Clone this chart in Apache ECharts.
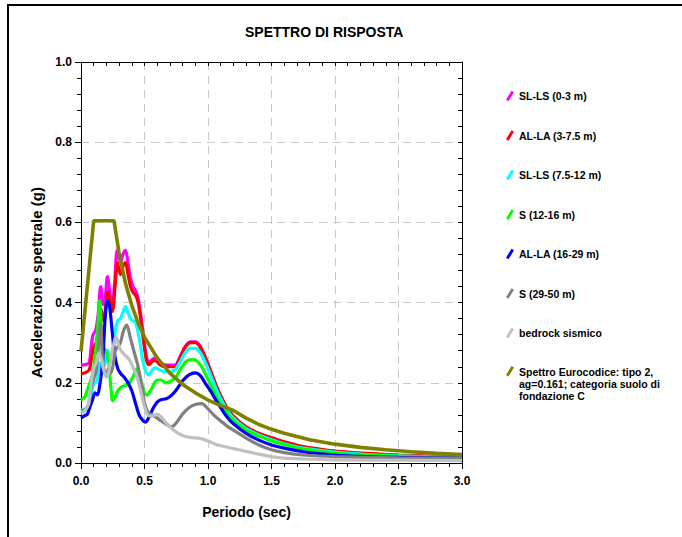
<!DOCTYPE html>
<html>
<head>
<meta charset="utf-8">
<script src="https://cdn.jsdelivr.net/npm/echarts@6/dist/echarts.min.js"></script>
<style>
html, body { margin: 0; padding: 0; background: #fff; }
#main { width: 682px; height: 537px; }
</style>
</head>
<body>
<div id="main"></div>
<script>
// periodo (s), accelerazione (g)
const slls03 = [[0,0.244],[0.04,0.246],[0.065,0.25],[0.08,0.29],[0.095,0.32],[0.115,0.33],[0.135,0.37],[0.155,0.44],[0.175,0.395],[0.19,0.41],[0.208,0.465],[0.225,0.43],[0.245,0.39],[0.265,0.45],[0.285,0.53],[0.31,0.5],[0.33,0.52],[0.35,0.53],[0.37,0.5],[0.39,0.46],[0.41,0.44],[0.43,0.43],[0.45,0.41],[0.47,0.37],[0.49,0.32],[0.515,0.265],[0.535,0.25],[0.56,0.258],[0.585,0.262],[0.62,0.25],[0.66,0.245],[0.7,0.244],[0.74,0.244],[0.78,0.265],[0.82,0.29],[0.86,0.302],[0.9,0.302],[0.94,0.29],[0.98,0.262],[1.02,0.23],[1.06,0.195],[1.1,0.165],[1.15,0.135],[1.2,0.115],[1.3,0.088],[1.4,0.073],[1.5,0.062],[1.6,0.052],[1.75,0.04],[2.0,0.029],[2.25,0.023],[2.5,0.019],[2.75,0.016],[3.0,0.014]];
const alla375 = [[0,0.222],[0.04,0.226],[0.065,0.232],[0.08,0.255],[0.1,0.29],[0.12,0.3],[0.14,0.34],[0.158,0.385],[0.175,0.355],[0.19,0.375],[0.212,0.427],[0.23,0.4],[0.248,0.378],[0.268,0.44],[0.287,0.5],[0.31,0.47],[0.33,0.49],[0.35,0.5],[0.37,0.47],[0.39,0.44],[0.41,0.425],[0.43,0.418],[0.45,0.4],[0.47,0.36],[0.49,0.31],[0.515,0.258],[0.535,0.245],[0.56,0.253],[0.585,0.256],[0.62,0.245],[0.66,0.24],[0.7,0.24],[0.74,0.24],[0.78,0.262],[0.82,0.288],[0.86,0.3],[0.9,0.3],[0.94,0.288],[0.98,0.262],[1.02,0.23],[1.06,0.197],[1.1,0.168],[1.15,0.138],[1.2,0.117],[1.3,0.09],[1.4,0.074],[1.5,0.063],[1.6,0.053],[1.75,0.041],[2.0,0.03],[2.25,0.024],[2.5,0.02],[2.75,0.017],[3.0,0.015]];
const slls7512 = [[0,0.132],[0.04,0.136],[0.065,0.145],[0.085,0.18],[0.105,0.2],[0.125,0.205],[0.15,0.25],[0.17,0.235],[0.19,0.25],[0.21,0.28],[0.23,0.27],[0.25,0.27],[0.27,0.33],[0.29,0.355],[0.31,0.36],[0.33,0.375],[0.35,0.39],[0.37,0.375],[0.39,0.36],[0.41,0.355],[0.43,0.35],[0.45,0.325],[0.47,0.29],[0.49,0.25],[0.515,0.225],[0.535,0.22],[0.56,0.232],[0.585,0.237],[0.62,0.232],[0.66,0.228],[0.7,0.228],[0.74,0.232],[0.78,0.252],[0.82,0.275],[0.86,0.286],[0.9,0.286],[0.94,0.275],[0.98,0.25],[1.02,0.22],[1.06,0.188],[1.1,0.16],[1.15,0.132],[1.2,0.112],[1.3,0.086],[1.4,0.07],[1.5,0.058],[1.6,0.048],[1.75,0.037],[2.0,0.027],[2.25,0.021],[2.5,0.018],[2.75,0.015],[3.0,0.014]];
const s1216 = [[0,0.157],[0.03,0.165],[0.05,0.182],[0.07,0.2],[0.09,0.22],[0.11,0.26],[0.13,0.33],[0.148,0.405],[0.16,0.33],[0.175,0.29],[0.195,0.28],[0.215,0.26],[0.235,0.19],[0.25,0.155],[0.27,0.165],[0.29,0.18],[0.32,0.19],[0.35,0.193],[0.38,0.2],[0.41,0.215],[0.44,0.235],[0.46,0.22],[0.48,0.195],[0.5,0.175],[0.52,0.17],[0.55,0.182],[0.58,0.2],[0.6,0.207],[0.63,0.207],[0.67,0.2],[0.71,0.205],[0.75,0.215],[0.79,0.238],[0.83,0.254],[0.87,0.258],[0.91,0.255],[0.95,0.24],[0.99,0.215],[1.03,0.19],[1.07,0.163],[1.1,0.148],[1.15,0.125],[1.2,0.106],[1.3,0.082],[1.4,0.067],[1.5,0.055],[1.6,0.046],[1.75,0.035],[2.0,0.025],[2.25,0.02],[2.5,0.017],[2.75,0.015],[3.0,0.013]];
const alla1629 = [[0,0.112],[0.03,0.118],[0.05,0.122],[0.07,0.14],[0.09,0.157],[0.11,0.175],[0.13,0.17],[0.15,0.2],[0.17,0.25],[0.19,0.36],[0.207,0.405],[0.225,0.39],[0.245,0.33],[0.265,0.27],[0.29,0.235],[0.315,0.222],[0.34,0.214],[0.37,0.2],[0.4,0.18],[0.43,0.148],[0.46,0.118],[0.49,0.105],[0.51,0.102],[0.54,0.118],[0.57,0.138],[0.6,0.152],[0.63,0.158],[0.67,0.16],[0.71,0.168],[0.75,0.182],[0.8,0.205],[0.85,0.22],[0.9,0.225],[0.94,0.218],[0.98,0.198],[1.02,0.18],[1.06,0.158],[1.1,0.138],[1.15,0.115],[1.2,0.098],[1.3,0.074],[1.4,0.057],[1.5,0.045],[1.6,0.037],[1.75,0.028],[2.0,0.02],[2.25,0.016],[2.5,0.014],[2.75,0.013],[3.0,0.012]];
const s2950 = [[0,0.13],[0.03,0.133],[0.06,0.145],[0.08,0.19],[0.1,0.21],[0.12,0.23],[0.14,0.3],[0.155,0.35],[0.17,0.25],[0.185,0.23],[0.2,0.215],[0.215,0.235],[0.235,0.225],[0.25,0.24],[0.27,0.28],[0.29,0.29],[0.31,0.3],[0.335,0.33],[0.36,0.344],[0.39,0.31],[0.42,0.275],[0.45,0.24],[0.48,0.19],[0.5,0.15],[0.53,0.125],[0.56,0.12],[0.6,0.112],[0.64,0.103],[0.68,0.095],[0.71,0.09],[0.75,0.1],[0.8,0.122],[0.85,0.138],[0.9,0.146],[0.95,0.148],[1.0,0.135],[1.05,0.118],[1.1,0.105],[1.15,0.092],[1.2,0.082],[1.3,0.062],[1.4,0.045],[1.5,0.033],[1.6,0.026],[1.75,0.02],[2.0,0.016],[2.5,0.013],[3.0,0.012]];
const bedrock = [[0,0.124],[0.03,0.13],[0.06,0.148],[0.08,0.2],[0.1,0.235],[0.12,0.25],[0.14,0.275],[0.16,0.26],[0.18,0.23],[0.2,0.215],[0.22,0.23],[0.24,0.27],[0.26,0.3],[0.275,0.315],[0.3,0.29],[0.32,0.278],[0.35,0.268],[0.38,0.258],[0.41,0.238],[0.44,0.215],[0.47,0.18],[0.5,0.14],[0.53,0.118],[0.56,0.117],[0.6,0.122],[0.63,0.115],[0.67,0.1],[0.72,0.085],[0.77,0.073],[0.82,0.066],[0.88,0.063],[0.93,0.062],[1.0,0.055],[1.05,0.048],[1.1,0.043],[1.2,0.036],[1.3,0.029],[1.4,0.022],[1.5,0.016],[1.6,0.012],[1.75,0.01],[2.0,0.008],[2.5,0.007],[3.0,0.006]];
const eurocodice = [[0,0.278],[0.1,0.604],[0.26,0.604],[0.3,0.523],[0.35,0.448],[0.4,0.393],[0.45,0.349],[0.5,0.314],[0.6,0.262],[0.7,0.224],[0.8,0.196],[0.9,0.175],[1.0,0.157],[1.1,0.143],[1.2,0.131],[1.3,0.112],[1.4,0.096],[1.5,0.084],[1.6,0.074],[1.8,0.058],[2.0,0.047],[2.2,0.039],[2.4,0.033],[2.6,0.028],[2.8,0.024],[3.0,0.021]];

const nomi = ['SL-LS (0-3 m)', 'AL-LA (3-7.5 m)', 'SL-LS (7.5-12 m)', 'S (12-16 m)', 'AL-LA (16-29 m)', 'S (29-50 m)', 'bedrock sismico', 'Spettro Eurocodice: tipo 2,\nag=0.161; categoria suolo di\nfondazione C'];
const colori = ['#ff00ff', '#ff0000', '#00ffff', '#00ff00', '#0000ff', '#808080', '#c0c0c0', '#808000'];
const dati = [slls03, alla375, slls7512, s1216, alla1629, s2950, bedrock, eurocodice];

const FONT = 'Liberation Sans, Arial, sans-serif';
const icona = 'path://M0,9 L5.5,0 L8,1.6 L2.5,10.6 Z';
const iconaLunga = 'path://M0,9 L5.5,0 L8,1.6 L2.5,10.6 Z M0,36 L0.01,36 L0,35.99 Z';

var myChart = echarts.init(document.getElementById('main'), null, { renderer: 'svg' });

var serie = [];
for (let i = 0; i < dati.length; i++) {
  serie.push({
    name: nomi[i],
    type: 'line',
    data: dati[i],
    showSymbol: false,
    smooth: i < 7 ? 0.3 : false,
    lineStyle: { color: colori[i], width: i < 7 ? 3.2 : 3.6 },
    itemStyle: { color: colori[i] },
    emphasis: { disabled: true }
  });
}

var asse = { show: true, onZero: false, lineStyle: { color: '#000', width: 1 } };
var tacche = { show: true, length: 6, lineStyle: { color: '#000' } };
var taccheDentro = { show: true, inside: true, length: 4, lineStyle: { color: '#000' } };
var taccheMinori = { show: true, splitNumber: 5, length: 4, lineStyle: { color: '#000' } };
var griglia = { show: true, lineStyle: { color: '#c8c8c8', type: [8, 6], width: 1 } };
var etichette = { fontFamily: FONT, fontSize: 12, fontWeight: 'bold', color: '#000' };

var option = {
  backgroundColor: '#fff',
  animation: false,
  title: {
    text: 'SPETTRO DI RISPOSTA',
    left: 240,
    top: 20,
    textStyle: { fontFamily: FONT, fontSize: 14, fontWeight: 'bold', color: '#000' }
  },
  graphic: [{
    type: 'rect',
    shape: { x: 8, y: 5, width: 700, height: 600 },
    style: { fill: 'none', stroke: '#000', lineWidth: 2 },
    silent: true
  }],
  legend: [{
    orient: 'vertical',
    left: 501,
    top: 85,
    itemWidth: 8,
    itemHeight: 11,
    itemGap: 27.5,
    icon: icona,
    data: nomi.slice(0, 7),
    textStyle: { fontFamily: FONT, fontSize: 10.5, fontWeight: 'bold', color: '#000', lineHeight: 12 }
  }, {
    orient: 'vertical',
    left: 501,
    top: 361,
    itemWidth: 8,
    itemHeight: 36,
    icon: iconaLunga,
    data: nomi.slice(7),
    textStyle: { fontFamily: FONT, fontSize: 10.5, fontWeight: 'bold', color: '#000', lineHeight: 12 }
  }],
  grid: { left: 81, right: 220, top: 62, bottom: 74 },
  xAxis: [{
    type: 'value',
    min: 0,
    max: 3,
    interval: 0.5,
    name: 'Periodo (sec)',
    nameLocation: 'middle',
    nameGap: 42,
    nameTextStyle: { fontFamily: FONT, fontSize: 14, fontWeight: 'bold', color: '#000', padding: [0, 50, 0, 0] },
    axisLine: asse,
    axisTick: tacche,
    minorTick: taccheMinori,
    axisLabel: Object.assign({ margin: 12, formatter: function (v) { return v.toFixed(1); } }, etichette),
    splitLine: griglia
  }, {
    type: 'value',
    position: 'top',
    min: 0,
    max: 3,
    interval: 0.5,
    axisLine: asse,
    axisTick: taccheDentro,
    minorTick: taccheMinori,
    axisLabel: { show: false },
    splitLine: { show: false }
  }],
  yAxis: [{
    type: 'value',
    min: 0,
    max: 1,
    interval: 0.2,
    name: 'Accelerazione spettrale (g)',
    nameLocation: 'middle',
    nameGap: 34,
    nameTextStyle: { fontFamily: FONT, fontSize: 15, fontWeight: 'bold', color: '#000', padding: [0, 40, 0, 0] },
    axisLine: asse,
    axisTick: tacche,
    minorTick: taccheMinori,
    axisLabel: Object.assign({ margin: 9, formatter: function (v) { return v.toFixed(1); } }, etichette),
    splitLine: griglia
  }, {
    type: 'value',
    position: 'right',
    min: 0,
    max: 1,
    interval: 0.2,
    axisLine: asse,
    axisTick: taccheDentro,
    minorTick: taccheMinori,
    axisLabel: { show: false },
    splitLine: { show: false }
  }],
  series: serie
};

myChart.setOption(option);
</script>
</body>
</html>
